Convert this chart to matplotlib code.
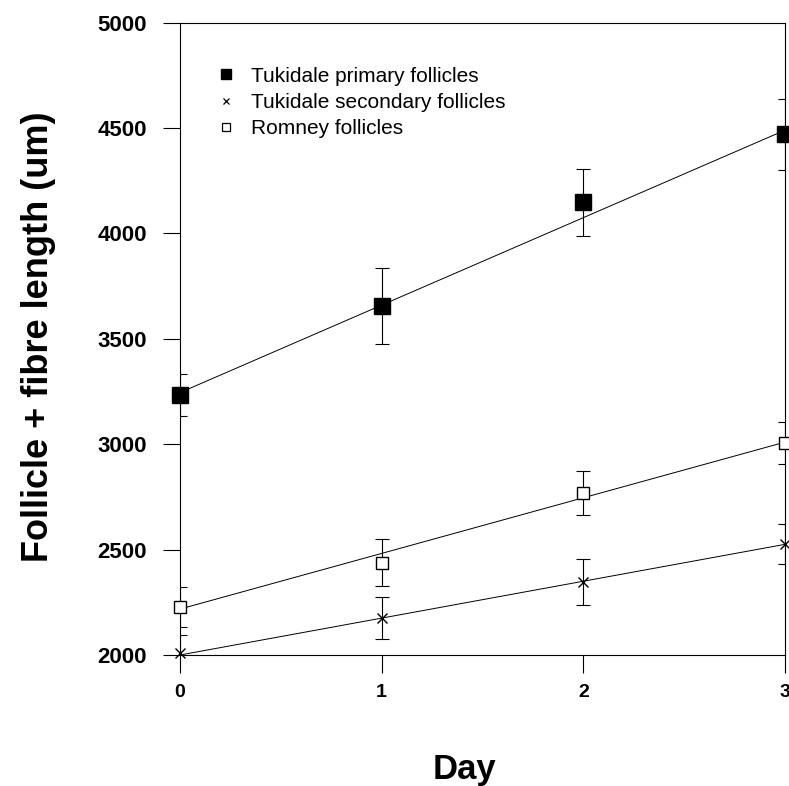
import matplotlib
matplotlib.use("Agg")
import matplotlib.pyplot as plt

days = [0, 1, 2, 3]

primary_mean = [3233, 3655, 4148, 4470]
primary_err = [100, 180, 158, 170]
primary_fit = [3245, 4490]          # fitted line at day 0 and day 3

secondary_mean = [2008, 2175, 2345, 2528]
secondary_err = [85, 100, 110, 95]
secondary_fit = [2000, 2525]

romney_mean = [2228, 2438, 2770, 3005]
romney_err = [95, 112, 105, 100]
romney_fit = [2218, 3010]

fit_days = [0, 3]

labels = ["Tukidale primary follicles", "Tukidale secondary follicles", "Romney follicles"]
yticks = [2000, 2500, 3000, 3500, 4000, 4500, 5000]
xticks = [0, 1, 2, 3]

plt.rcParams['font.family'] = ['Liberation Sans', 'DejaVu Sans']

fig = plt.figure(figsize=(7.89, 7.86), dpi=100)
ax = fig.add_axes([180/789, 1-655/786, 605/789, (655-22.7)/786])

lw = 0.8
# fitted lines
ax.plot(fit_days, primary_fit, color='black', lw=0.7, zorder=2)
ax.plot(fit_days, secondary_fit, color='black', lw=0.7, zorder=2)
ax.plot(fit_days, romney_fit, color='black', lw=0.7, zorder=2)

# error bars
for m, e in [(primary_mean, primary_err), (secondary_mean, secondary_err), (romney_mean, romney_err)]:
    ax.errorbar(days, m, yerr=e, fmt='none', ecolor='black', elinewidth=lw,
                capsize=5, capthick=lw, zorder=3)

ax.plot(days, primary_mean, ls='none', marker='s', ms=11, mfc='black', mec='black',
        clip_on=False, zorder=5)
ax.plot(days, secondary_mean, ls='none', marker='x', ms=7, mew=1.0, color='black',
        clip_on=False, zorder=5)
ax.plot(days, romney_mean, ls='none', marker='s', ms=8.5, mfc='white', mec='black', mew=1.0,
        clip_on=False, zorder=5)

# legend proxies
h1, = ax.plot([], [], ls='none', marker='s', ms=7, mfc='black', mec='black')
h2, = ax.plot([], [], ls='none', marker='x', ms=5, mew=0.9, color='black')
h3, = ax.plot([], [], ls='none', marker='s', ms=6, mfc='white', mec='black', mew=0.9)
leg = ax.legend([h1, h2, h3], labels, loc='upper left', bbox_to_anchor=(0.028, 0.96),
                frameon=False, handlelength=1.0, handletextpad=0.7, labelspacing=0.35,
                prop={'size': 15})

ax.set_xlim(0, 3)
ax.set_ylim(2000, 5000)
ax.set_xticks(xticks)
ax.set_yticks(yticks)
ax.set_xticklabels([str(t) for t in xticks], fontsize=14, fontweight='bold')
ax.set_yticklabels([str(t) for t in yticks], fontsize=16, fontweight='bold')
ax.tick_params(axis='y', direction='out', length=12, width=lw, pad=12)
ax.tick_params(axis='x', direction='out', length=13, width=lw, pad=8)

for s in ax.spines.values():
    s.set_linewidth(lw)

ax.set_ylabel("Follicle + fibre length (um)", fontsize=26, fontweight='bold')
ax.yaxis.set_label_coords(-0.205, 0.503)
ax.set_xlabel("Day", fontsize=25, fontweight='bold')
ax.xaxis.set_label_coords(0.471, -0.155)

fig.savefig("out.png", dpi=100)
